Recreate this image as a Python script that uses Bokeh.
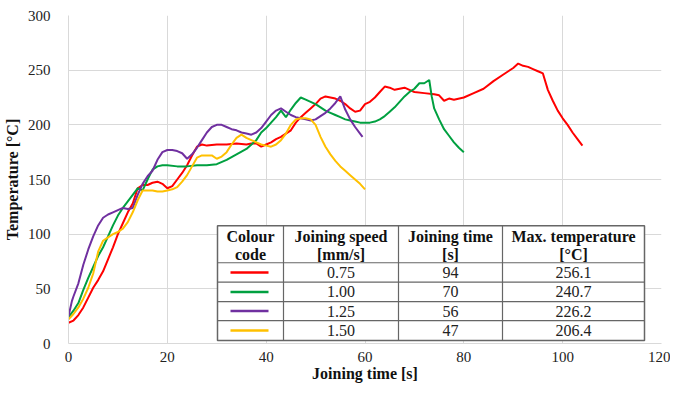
from bokeh.plotting import figure
from bokeh.models import Range1d, FixedTicker
from bokeh.core.properties import value
from bokeh.embed import file_html
from bokeh.resources import INLINE

# ---- data ----
red_t = [0, 1, 2, 3, 4, 5, 6, 7, 8, 9, 10, 11, 12, 13, 14, 15, 16, 17, 18, 19, 20, 21, 22, 23, 24, 25, 26, 27, 28, 30, 32, 34, 36, 37, 38, 39, 40, 41, 42, 43, 44, 45, 46, 47, 48, 49, 50, 51, 52, 53, 54, 55, 56, 57, 58, 59, 60, 61, 62, 63, 64, 65, 66, 67, 68, 69, 70, 72, 74, 75, 76, 77, 78, 80, 82, 84, 86, 88, 89, 90, 91, 92, 93, 94, 95, 96, 97, 98, 99, 100, 101, 102, 103, 104]
red_T = [19, 21, 26, 33, 42, 51, 58, 66, 77, 88, 100, 110, 120, 128, 142, 145, 145, 147, 148, 146, 142, 144, 150, 156, 163, 172, 180, 182, 181, 182, 182, 183, 182, 183, 183, 180, 182, 184, 187, 189, 192, 195, 202, 207, 211, 215, 219, 224, 226, 225, 224, 222, 219, 215, 212, 213, 219, 221, 225, 230, 235, 234, 232, 233, 234, 232, 230, 229, 228, 227, 222, 224, 223, 225, 229, 233, 240, 246, 249, 252, 256, 254, 253, 251, 249, 247, 232, 222, 213, 206, 200, 193, 187, 181]

green_t = [0, 1, 2, 3, 4, 5, 6, 7, 8, 9, 10, 11, 12, 13, 14, 15, 16, 17, 18, 19, 20, 22, 24, 26, 28, 30, 32, 34, 36, 38, 39, 40, 41, 42, 43, 44, 45, 46, 47, 48, 49, 50, 51, 52, 53, 54, 55, 56, 57, 58, 59, 60, 61, 62, 63, 64, 65, 66, 67, 68, 69, 70, 71, 72, 73, 73.5, 74, 75, 76, 77, 78, 79, 80]
green_T = [24, 30, 37, 49, 60, 70, 80, 88, 98, 108, 117, 124, 130, 136, 142, 140, 150, 159, 162, 163, 163, 162, 162, 163, 163, 164, 168, 173, 178, 186, 193, 197, 202, 207, 213, 207, 214, 220, 225, 223, 221, 219, 216, 213, 211, 209, 207, 205, 204, 203, 202, 202, 202, 203, 205, 208, 212, 216, 221, 226, 230, 233, 238, 238, 241, 226, 215, 205, 196, 190, 184, 179, 175]

purple_t = [0, 0.7, 1, 2, 3, 4, 5, 6, 7, 8, 9, 10, 11, 12, 13, 14, 15, 16, 17, 18, 19, 20, 21, 22, 23, 24, 25, 26, 27, 28, 29, 30, 31, 32, 33, 34, 35, 36, 37, 38, 39, 40, 41, 42, 43, 44, 45, 46, 47, 48, 49, 50, 51, 52, 53, 54, 55, 56, 57, 58, 59, 59.5]
purple_T = [25, 39, 43, 55, 72, 86, 98, 108, 115, 118, 120, 122, 124, 123, 124, 136, 146, 153, 158, 168, 175, 177, 177, 176, 174, 169, 173, 179, 186, 193, 198, 200, 200, 198, 196, 195, 193, 192, 191, 193, 197, 203, 209, 213, 215, 212, 209, 207, 206, 205, 204, 205, 208, 211, 215, 220, 226, 214, 205, 198, 192, 189]

yellow_t = [0, 1, 2, 3, 4, 5, 6, 7, 8, 9, 10, 11, 12, 13, 14, 15, 16, 17, 18, 19, 20, 21, 22, 23, 24, 25, 26, 27, 28, 29, 30, 31, 32, 33, 34, 35, 36, 37, 38, 39, 40, 41, 42, 43, 44, 45, 46, 47, 48, 49, 50, 51, 52, 53, 54, 55, 56, 57, 58, 59, 60]
yellow_T = [22, 27, 33, 41, 51, 64, 84, 94, 97, 100, 102, 105, 111, 120, 131, 140, 140, 140, 139, 139, 140, 141, 143, 148, 154, 162, 170, 172, 172, 172, 169, 171, 175, 182, 188, 191, 188, 186, 184, 182, 181, 180, 182, 186, 192, 200, 205, 206, 206, 205, 200, 189, 180, 173, 167, 162, 158, 154, 150, 146, 141]

series_colors = ["#ff0000", "#00a040", "#7030a0", "#ffc000"]

# table contents
header_line1 = ["Colour", "Joining speed", "Joining time", "Max. temperature"]
header_line2 = ["code", "[mm/s]", "[s]", "[°C]"]
joining_speed = ["0.75", "1.00", "1.25", "1.50"]
joining_time = ["94", "70", "56", "47"]
max_temperature = ["256.1", "240.7", "226.2", "206.4"]

x_ticks = [0, 20, 40, 60, 80, 100, 120]
y_ticks = [0, 50, 100, 150, 200, 250, 300]

FONT = "Liberation Serif"

W, H = 670, 384
B_LEFT, B_RIGHT, B_TOP, B_BOTTOM = 68, 9, 15, 40
X0, X1, Y0, Y1 = 0, 120, 0, 300

p = figure(width=W, height=H, output_backend="svg", toolbar_location=None,
           x_range=Range1d(X0, X1), y_range=Range1d(Y0, Y1),
           min_border_left=B_LEFT, min_border_right=B_RIGHT, min_border_top=B_TOP, min_border_bottom=B_BOTTOM)
p.outline_line_color = None
p.background_fill_color = "white"
p.border_fill_color = "white"

for ax in (p.xaxis[0], p.yaxis[0]):
    ax.major_tick_line_color = None
    ax.minor_tick_line_color = None
    ax.axis_line_color = "#d9d9d9"
    ax.major_label_text_font = FONT
    ax.major_label_text_font_size = "15px"
    ax.major_label_text_color = "#222222"
    ax.axis_label_text_font = FONT
    ax.axis_label_text_font_style = "bold"
    ax.axis_label_text_font_size = "16px"
    ax.axis_label_text_color = "#111111"

p.xaxis.ticker = FixedTicker(ticks=x_ticks)
p.yaxis.ticker = FixedTicker(ticks=y_ticks)
p.xaxis.axis_label = "Joining time [s]"
p.yaxis.axis_label = "Temperature [°C]"
p.xaxis.major_label_standoff = 2
p.yaxis.major_label_standoff = 12
p.xaxis.axis_label_standoff = 0
p.yaxis.axis_label_standoff = 4

p.xgrid.grid_line_color = "#d9d9d9"
p.ygrid.grid_line_color = "#d9d9d9"

for ts, Ts, c in [(red_t, red_T, series_colors[0]), (green_t, green_T, series_colors[1]),
                  (purple_t, purple_T, series_colors[2]), (yellow_t, yellow_T, series_colors[3])]:
    p.line(ts, Ts, line_color=c, line_width=2)

# ---- table: layout given in canvas pixels, converted to data units ----
FW = W - B_LEFT - B_RIGHT
FH = H - B_TOP - B_BOTTOM

def dx(px):
    return X0 + (px - B_LEFT) / FW * (X1 - X0)

def dy(py):
    return Y0 + (B_TOP + FH - py) / FH * (Y1 - Y0)

col_px = [217, 283, 398, 502, 644]
row_px = [226, 263, 282.5, 302, 321, 341]
col_edges = [dx(v) for v in col_px]
row_edges = [dy(v) for v in row_px]
col_centers = [(col_edges[i] + col_edges[i + 1]) / 2 for i in range(4)]
row_centers = [(row_edges[i] + row_edges[i + 1]) / 2 for i in range(1, 5)]

p.quad(left=[col_edges[0]], right=[col_edges[-1]], top=[row_edges[0]], bottom=[row_edges[-1]],
       fill_color="white", line_color="#666666", line_width=1.5)
for xe in col_edges[1:-1]:
    p.segment(x0=[xe], y0=[row_edges[-1]], x1=[xe], y1=[row_edges[0]], line_color="#666666", line_width=1.2)
for ye in row_edges[1:-1]:
    p.segment(x0=[col_edges[0]], y0=[ye], x1=[col_edges[-1]], y1=[ye], line_color="#666666", line_width=1.2)

hdr_y1 = dy(237)
hdr_y2 = dy(255)
p.text(x=col_centers, y=[hdr_y1] * 4, text=header_line1, text_font=value(FONT), text_font_style="bold",
       text_font_size="16px", text_align="center", text_baseline="middle", text_color="#111111")
p.text(x=col_centers, y=[hdr_y2] * 4, text=header_line2, text_font=value(FONT), text_font_style="bold",
       text_font_size="16px", text_align="center", text_baseline="middle", text_color="#111111")

for col, vals in zip(col_centers[1:], [joining_speed, joining_time, max_temperature]):
    p.text(x=[col] * 4, y=row_centers, text=vals, text_font=value(FONT), text_font_size="16px",
           text_align="center", text_baseline="middle", text_color="#222222")

p.segment(x0=[dx(230)] * 4, y0=row_centers, x1=[dx(268)] * 4, y1=row_centers,
          line_color=series_colors, line_width=2.5)

open("out.html", "w").write(file_html(p, INLINE))
